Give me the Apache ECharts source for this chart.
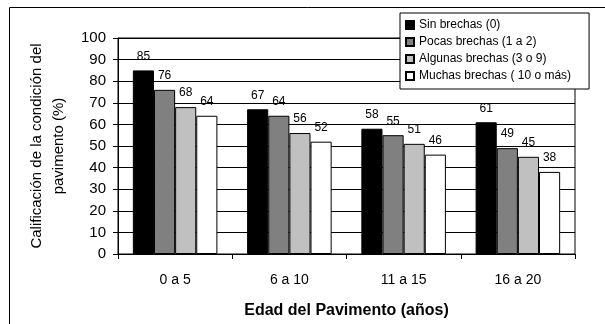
<!DOCTYPE html>
<html>
<head>
<meta charset="utf-8">
<script src="https://cdn.jsdelivr.net/npm/echarts@6/dist/echarts.min.js"></script>
<style>
  html, body { margin: 0; padding: 0; background: #fff; }
  #chart { width: 605px; height: 324px; }
</style>
</head>
<body>
<div id="chart"></div>
<script>
// Pavement condition rating by pavement age and number of gaps
const categories = ['0 a 5', '6 a 10', '11 a 15', '16 a 20'];
const seriesNames = [
  'Sin brechas (0)',
  'Pocas brechas (1 a 2)',
  'Algunas brechas (3 o 9)',
  'Muchas brechas ( 10 o más)'
];
const sinBrechas = [85, 67, 58, 61];
const pocasBrechas = [76, 64, 55, 49];
const algunasBrechas = [68, 56, 51, 45];
const muchasBrechas = [64, 52, 46, 38];
const yTicks = { min: 0, max: 100, interval: 10 };

const values = [sinBrechas, pocasBrechas, algunasBrechas, muchasBrechas];
const fills = ['#000000', '#808080', '#c0c0c0', '#ffffff'];
const FONT = 'Liberation Sans, Arial, sans-serif';

const chart = echarts.init(document.getElementById('chart'), null, { renderer: 'canvas' });

const series = seriesNames.map((name, i) => ({
  name,
  type: 'bar',
  data: values[i],
  barGap: '0%',
  barCategoryGap: '26%',
  itemStyle: { color: fills[i], borderColor: '#000', borderWidth: 1 },
  label: {
    show: true,
    position: 'top',
    distance: 8,
    color: '#000',
    fontFamily: FONT,
    fontSize: 12
  },
  animation: false
}));

chart.setOption({
  backgroundColor: '#fff',
  animation: false,
  grid: {
    left: 118, right: 30, top: 38, bottom: 68,
    show: true, borderColor: '#000', borderWidth: 1, backgroundColor: 'transparent'
  },
  legend: {
    orient: 'vertical',
    left: 400, top: 13,
    itemWidth: 8, itemHeight: 8, itemGap: 3,
    padding: [5, 18, 6, 5],
    backgroundColor: '#fff',
    borderColor: '#000', borderWidth: 1,
    borderRadius: 0,
    icon: 'rect',
    textStyle: { fontFamily: FONT, fontSize: 12, color: '#000', lineHeight: 14 },
    data: seriesNames
  },
  xAxis: {
    type: 'category',
    data: categories,
    name: 'Edad del Pavimento (años)',
    nameLocation: 'middle',
    nameGap: 49,
    nameTextStyle: { fontFamily: FONT, fontSize: 16, fontWeight: 'bold', color: '#000' },
    axisLine: { lineStyle: { color: '#000', width: 1 } },
    axisTick: { show: true, length: 5, lineStyle: { color: '#000' } },
    axisLabel: { fontFamily: FONT, fontSize: 14, color: '#000', margin: 19 },
    splitLine: { show: false }
  },
  yAxis: {
    type: 'value',
    min: yTicks.min, max: yTicks.max, interval: yTicks.interval,
    name: 'Calificación de la condición del\npavimento (%)',
    nameLocation: 'middle',
    nameGap: 42,
    nameTextStyle: { fontFamily: FONT, fontSize: 15, color: '#000', lineHeight: 22, align: 'center' },
    axisLine: { show: true, lineStyle: { color: '#000', width: 1 } },
    axisTick: { show: true, length: 5, lineStyle: { color: '#000' } },
    axisLabel: { fontFamily: FONT, fontSize: 15, color: '#000', margin: 12 },
    splitLine: { show: true, lineStyle: { color: '#000', width: 1 } }
  },
  graphic: [
    // frame lines along the top and left edges
    { type: 'line', shape: { x1: 9.5, y1: 7.5, x2: 605, y2: 7.5 }, style: { stroke: '#000', lineWidth: 1 } },
    { type: 'line', shape: { x1: 9.5, y1: 7.5, x2: 9.5, y2: 324 }, style: { stroke: '#000', lineWidth: 1 } }
  ],
  series
});
</script>
</body>
</html>
